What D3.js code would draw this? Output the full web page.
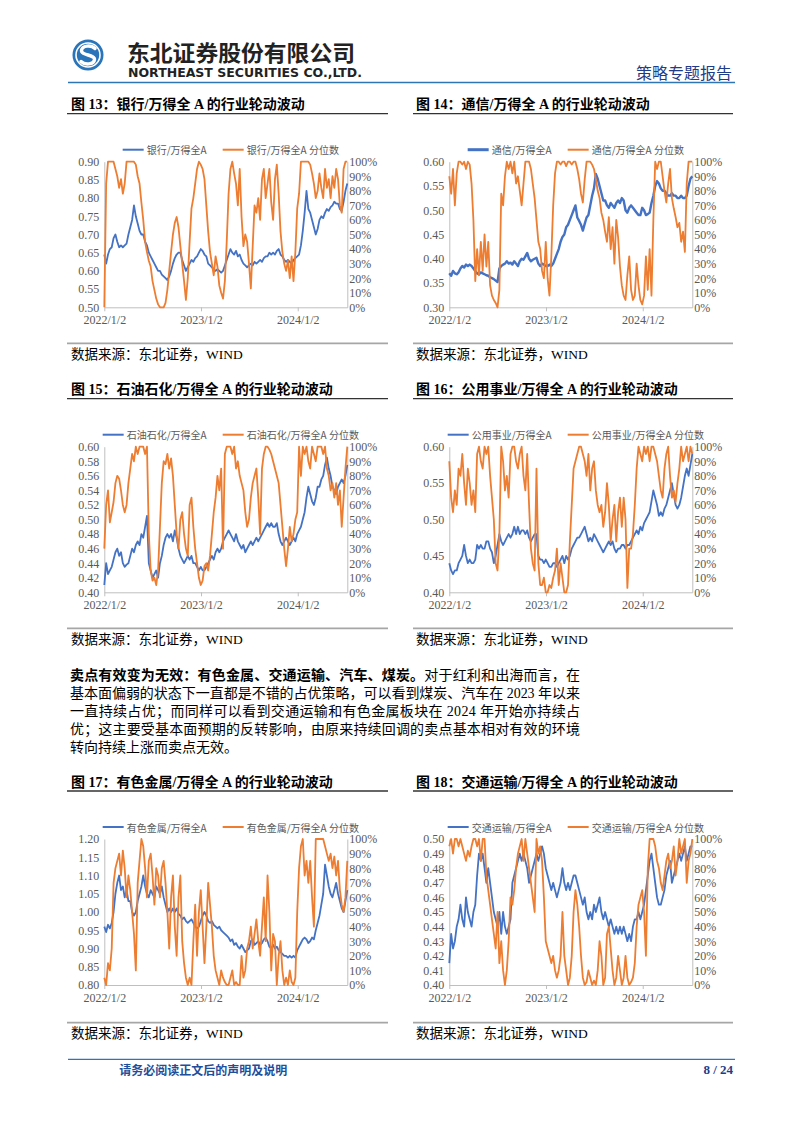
<!DOCTYPE html>
<html><head><meta charset="utf-8">
<script src="https://cdn.jsdelivr.net/npm/d3@7"></script>
<style>body{margin:0;background:#fff}svg{display:block}</style>
</head><body>
<svg id="page" width="802" height="1133"></svg>
<script>
// ---------- categories ----------
const firstWeek = "2022-01-02";
const weekCount = 132;
const xDomainEnd = "2024-07-07";
const xTickDates = ["2022-01-02", "2023-01-02", "2024-01-02"];
const xTickLabels = ["2022/1/2", "2023/1/2", "2024/1/2"];
const pctTicks = [0, 10, 20, 30, 40, 50, 60, 70, 80, 90, 100];

// ---------- series (weekly readings) ----------
const bankRatio = [
0.645,0.62,0.645,0.66,0.665,0.69,0.70,0.68,0.665,0.67,
0.665,0.67,0.675,0.70,0.72,0.74,0.78,0.75,0.73,0.71,
0.70,0.70,0.68,0.67,0.65,0.64,0.63,0.62,0.61,0.60,
0.60,0.59,0.585,0.58,0.575,0.585,0.60,0.62,0.635,0.645,
0.65,0.65,0.63,0.615,0.60,0.61,0.62,0.63,0.625,0.635,
0.64,0.65,0.66,0.655,0.645,0.64,0.62,0.615,0.61,0.605,
0.60,0.605,0.60,0.595,0.60,0.615,0.63,0.645,0.66,0.65,
0.645,0.655,0.64,0.645,0.63,0.62,0.615,0.61,0.615,0.62,
0.615,0.625,0.62,0.625,0.63,0.625,0.635,0.64,0.64,0.65,
0.645,0.65,0.645,0.655,0.66,0.645,0.64,0.63,0.625,0.63,
0.625,0.62,0.63,0.635,0.64,0.645,0.67,0.71,0.76,0.82,
0.77,0.76,0.74,0.72,0.70,0.715,0.74,0.75,0.745,0.76,
0.77,0.765,0.775,0.78,0.79,0.785,0.785,0.77,0.765,0.79,
0.82,0.84];
const bankPct = [
0,85,100,100,100,100,95,90,82,88,
78,85,100,100,100,100,100,98,90,85,
72,60,45,38,32,28,18,12,6,2,
0,0,0,3,12,25,38,50,58,62,
55,42,30,18,5,20,45,68,75,85,
95,100,98,95,88,70,52,38,30,22,
35,28,15,10,6,18,45,78,95,100,
92,85,70,95,62,42,50,45,30,13,
42,70,65,75,60,88,95,75,85,95,
72,60,88,98,78,52,38,30,25,32,
20,35,18,38,68,78,100,100,100,100,
100,98,92,85,75,80,92,82,75,95,
82,88,75,90,82,95,88,70,65,95,
100,100];

const telecomRatio = [
0.37,0.365,0.375,0.37,0.368,0.372,0.38,0.385,0.382,0.388,
0.385,0.388,0.385,0.38,0.375,0.37,0.368,0.372,0.37,0.368,
0.366,0.365,0.362,0.36,0.358,0.355,0.352,0.38,0.385,0.388,
0.39,0.395,0.39,0.392,0.388,0.395,0.39,0.385,0.395,0.40,
0.398,0.405,0.412,0.40,0.395,0.398,0.40,0.402,0.39,0.385,
0.39,0.388,0.385,0.385,0.388,0.385,0.39,0.40,0.41,0.42,
0.435,0.445,0.45,0.465,0.47,0.48,0.49,0.50,0.51,0.485,
0.478,0.47,0.458,0.472,0.485,0.49,0.51,0.53,0.545,0.575,
0.565,0.55,0.535,0.52,0.52,0.51,0.505,0.515,0.51,0.505,
0.515,0.52,0.515,0.525,0.52,0.50,0.495,0.505,0.51,0.505,
0.50,0.495,0.49,0.49,0.505,0.50,0.49,0.492,0.495,0.515,
0.53,0.55,0.56,0.555,0.545,0.54,0.54,0.535,0.53,0.53,
0.535,0.53,0.53,0.525,0.525,0.53,0.525,0.525,0.53,0.55,
0.565,0.57];
const telecomPct = [
90,78,95,70,92,100,100,98,100,95,
100,98,85,60,18,40,22,45,25,50,
28,45,15,8,5,3,0,12,78,70,
90,100,95,100,92,100,85,90,80,70,
85,100,100,100,95,85,75,60,45,40,
25,20,45,20,8,35,70,92,100,100,
98,100,100,97,100,100,98,100,100,95,
88,78,72,88,100,100,100,98,95,88,
80,75,65,60,52,45,62,40,55,30,
60,48,28,15,8,5,22,35,12,5,
8,30,15,5,2,8,35,12,40,8,
60,100,95,100,100,90,80,72,85,95,
75,68,62,55,58,45,52,38,85,100,
100,100];

const petroRatio = [
0.41,0.44,0.425,0.43,0.435,0.445,0.455,0.46,0.45,0.455,
0.44,0.435,0.438,0.44,0.45,0.46,0.455,0.465,0.47,0.465,
0.48,0.475,0.49,0.505,0.44,0.43,0.42,0.425,0.43,0.42,
0.44,0.45,0.465,0.475,0.48,0.475,0.48,0.47,0.485,0.475,
0.46,0.45,0.445,0.44,0.445,0.45,0.445,0.45,0.44,0.44,
0.435,0.43,0.435,0.43,0.43,0.435,0.44,0.445,0.45,0.445,
0.455,0.46,0.455,0.46,0.47,0.475,0.48,0.485,0.48,0.475,
0.47,0.48,0.47,0.465,0.46,0.465,0.455,0.46,0.465,0.47,
0.465,0.47,0.475,0.47,0.475,0.48,0.485,0.49,0.495,0.49,
0.495,0.49,0.49,0.495,0.48,0.47,0.465,0.47,0.475,0.47,
0.465,0.47,0.475,0.47,0.48,0.485,0.49,0.50,0.51,0.53,
0.545,0.535,0.525,0.52,0.53,0.545,0.545,0.555,0.56,0.575,
0.585,0.57,0.56,0.545,0.54,0.535,0.545,0.55,0.555,0.55,
0.56,0.575];
const petroPct = [
30,60,70,48,55,62,75,80,78,70,
60,55,60,75,85,95,90,100,95,100,
100,100,95,100,40,15,8,10,5,15,
45,75,90,88,95,85,92,80,60,40,
30,50,55,40,30,25,60,65,45,30,
20,10,5,8,18,20,15,25,40,55,
65,80,70,85,30,95,100,100,100,95,
100,85,90,80,75,70,55,45,50,65,
75,80,85,65,40,85,95,100,100,98,
95,90,85,80,75,60,45,30,18,30,
45,35,40,50,55,100,80,100,95,100,
90,85,100,95,90,100,100,100,95,100,
85,80,70,75,65,75,60,70,45,65,
85,100];

const utilRatio = [
0.44,0.43,0.425,0.43,0.43,0.44,0.445,0.45,0.465,0.45,
0.44,0.445,0.44,0.44,0.445,0.465,0.46,0.465,0.46,0.46,
0.47,0.47,0.46,0.455,0.44,0.45,0.465,0.48,0.47,0.465,
0.47,0.475,0.48,0.475,0.48,0.49,0.48,0.49,0.48,0.485,
0.485,0.48,0.485,0.475,0.47,0.475,0.48,0.48,0.45,0.445,
0.445,0.44,0.445,0.44,0.435,0.435,0.44,0.44,0.435,0.44,
0.445,0.45,0.44,0.45,0.445,0.45,0.46,0.465,0.47,0.475,
0.475,0.48,0.485,0.49,0.48,0.47,0.475,0.47,0.48,0.475,
0.47,0.465,0.46,0.455,0.46,0.465,0.47,0.465,0.47,0.46,
0.455,0.46,0.46,0.465,0.465,0.46,0.465,0.465,0.47,0.475,
0.48,0.485,0.48,0.49,0.485,0.495,0.50,0.505,0.51,0.525,
0.54,0.53,0.52,0.505,0.51,0.505,0.515,0.52,0.53,0.54,
0.55,0.535,0.52,0.515,0.52,0.53,0.545,0.56,0.57,0.56,
0.575,0.59];
const utilPct = [
90,65,55,70,60,85,80,95,75,60,
85,75,60,70,55,95,100,90,85,100,
95,100,80,65,50,20,15,40,100,90,
70,80,65,95,100,100,90,85,95,100,
80,70,95,60,30,20,15,85,20,5,
5,10,0,0,5,3,10,15,30,5,
20,10,0,0,5,35,60,85,90,95,
100,100,95,90,80,95,70,85,90,70,
60,55,60,45,55,75,60,35,50,60,
35,55,65,45,65,50,3,30,30,40,
60,85,100,95,90,100,95,100,90,100,
100,95,90,80,70,65,85,95,100,80,
65,70,62,75,85,100,90,95,100,90,
100,95];

const metalRatio = [
0.96,0.945,0.965,0.955,0.97,1.00,1.05,1.08,1.10,1.06,
1.07,1.04,1.06,1.03,1.03,1.00,0.99,1.00,1.03,1.05,
1.07,1.10,1.07,1.05,1.04,1.06,1.05,1.04,1.07,1.06,
1.05,1.07,1.04,1.02,1.00,1.01,1.00,1.01,1.00,1.01,
0.995,0.99,0.98,0.985,0.975,0.97,0.975,0.98,0.97,0.96,
0.955,0.96,0.975,0.99,1.00,0.99,0.975,0.97,0.975,0.965,
0.96,0.955,0.96,0.95,0.945,0.94,0.935,0.93,0.92,0.925,
0.91,0.915,0.905,0.90,0.91,0.90,0.89,0.895,0.90,0.92,
0.925,0.91,0.915,0.92,0.91,0.915,0.925,0.93,0.92,0.905,
0.90,0.91,0.90,0.905,0.895,0.89,0.885,0.88,0.88,0.875,
0.88,0.875,0.88,0.875,0.895,0.905,0.915,0.925,0.93,0.925,
0.915,0.92,0.93,0.925,0.95,0.97,0.99,1.02,1.05,1.13,
1.10,1.07,1.05,1.04,1.06,1.08,1.05,1.03,1.01,1.00,
1.03,1.06];
const metalPct = [
5,0,15,10,25,70,80,85,90,75,
92,80,60,75,65,50,35,10,70,85,
100,95,80,60,85,90,75,55,80,75,
60,80,85,70,50,25,60,75,40,20,
60,75,30,15,5,0,5,0,30,55,
20,50,65,40,15,40,70,55,40,20,
10,5,0,10,5,2,0,0,5,10,
0,2,0,0,20,5,10,25,30,40,
25,35,45,30,20,40,60,30,75,50,
10,35,30,0,20,30,10,0,5,0,
10,2,0,5,50,80,95,100,75,85,
70,85,60,40,100,100,100,100,100,95,
90,85,90,80,88,75,85,65,55,50,
60,85];

const transRatio = [
0.415,0.435,0.425,0.43,0.44,0.445,0.455,0.445,0.44,0.46,
0.45,0.445,0.44,0.45,0.455,0.475,0.49,0.485,0.49,0.48,
0.47,0.48,0.47,0.46,0.45,0.445,0.44,0.45,0.435,0.45,
0.44,0.435,0.44,0.445,0.47,0.475,0.48,0.485,0.49,0.485,
0.49,0.485,0.48,0.47,0.475,0.48,0.485,0.49,0.485,0.49,
0.495,0.49,0.48,0.475,0.47,0.465,0.47,0.465,0.46,0.465,
0.47,0.48,0.47,0.465,0.47,0.465,0.47,0.475,0.475,0.47,
0.465,0.46,0.455,0.46,0.45,0.445,0.45,0.445,0.455,0.45,
0.455,0.46,0.45,0.445,0.45,0.445,0.44,0.445,0.44,0.435,
0.44,0.435,0.44,0.435,0.44,0.435,0.43,0.435,0.43,0.44,
0.445,0.445,0.45,0.445,0.45,0.455,0.465,0.475,0.485,0.49,
0.48,0.47,0.46,0.455,0.455,0.46,0.465,0.475,0.48,0.485,
0.47,0.475,0.48,0.485,0.49,0.485,0.49,0.495,0.485,0.49,
0.495,0.495];
const transPct = [
95,100,90,100,100,95,100,95,90,85,
92,88,95,100,100,95,100,85,100,100,
75,65,55,45,35,25,50,15,30,10,
0,10,30,60,55,65,80,90,95,100,
85,100,90,80,70,60,50,100,90,95,
85,60,30,25,20,15,20,10,5,10,
20,50,20,10,0,5,20,50,65,55,
40,20,5,0,2,10,5,0,3,0,
10,30,20,0,5,35,40,25,10,0,
5,20,10,0,5,20,5,0,2,5,
15,40,55,60,65,50,20,80,100,100,
100,95,85,80,70,65,75,85,90,80,
85,95,75,85,100,90,95,100,70,85,
90,100];

// ---------- chart list ----------
const chartNums = [13, 14, 15, 16, 17, 18];
const chartNames = ["银行", "通信", "石油石化", "公用事业", "有色金属", "交通运输"];
const ratioSeries = [bankRatio, telecomRatio, petroRatio, utilRatio, metalRatio, transRatio];
const pctSeries = [bankPct, telecomPct, petroPct, utilPct, metalPct, transPct];
const leftAxisMin = [0.50, 0.30, 0.40, 0.40, 0.80, 0.40];
const leftAxisMax = [0.90, 0.60, 0.60, 0.60, 1.20, 0.50];
const leftAxisStep = [0.05, 0.05, 0.02, 0.05, 0.05, 0.01];

const paragraphLines = [
  [["卖点有效变为无效：有色金属、交通运输、汽车、煤炭。", true], ["对于红利和出海而言，在", false]],
  [["基本面偏弱的状态下一直都是不错的占优策略，可以看到煤炭、汽车在 2023 年以来", false]],
  [["一直持续占优；而同样可以看到交通运输和有色金属板块在 2024 年开始亦持续占", false]],
  [["优；这主要受基本面预期的反转影响，由原来持续回调的卖点基本相对有效的环境", false]],
  [["转向持续上涨而卖点无效。", false]]
];

// ---------- drawing ----------
const BLUE = "#4472C4", ORANGE = "#ED7D31";
const CJK = "'Noto Sans CJK SC', sans-serif";
const SERIF = "'Liberation Serif', 'Noto Sans CJK SC', serif";
const svg = d3.select("#page");
const parse = d3.timeParse("%Y-%m-%d");
const dates = d3.range(weekCount).map(i => d3.timeDay.offset(parse(firstWeek), 7 * i));
const xDomain = [parse(firstWeek), parse(xDomainEnd)];

// header
const hd = svg.append("g");
hd.append("circle").attr("cx", 88).attr("cy", 55).attr("r", 15.5).attr("fill", "#2A74BA");
hd.append("circle").attr("cx", 88).attr("cy", 55).attr("r", 12).attr("fill", "none").attr("stroke", "#fff").attr("stroke-width", 1.6);
hd.append("path").attr("d", "M95,48.5 C91,44.5 82,45.5 81.5,50.5 C81,55.5 95,54.5 94.5,59.5 C94,64.5 85,65.5 81,61.5")
  .attr("fill", "none").attr("stroke", "#fff").attr("stroke-width", 3.4).attr("stroke-linecap", "round");
hd.append("text").attr("x", 127).attr("y", 51).attr("dominant-baseline", "central")
  .attr("font-family", CJK).attr("font-weight", "bold").attr("font-size", 22).attr("fill", "#222")
  .attr("textLength", 228).attr("lengthAdjust", "spacingAndGlyphs").text("东北证券股份有限公司");
hd.append("text").attr("x", 128).attr("y", 76.5)
  .attr("font-family", "'DejaVu Sans', sans-serif").attr("font-weight", "bold").attr("font-size", 12).attr("fill", "#222")
  .attr("textLength", 234).attr("lengthAdjust", "spacingAndGlyphs").text("NORTHEAST SECURITIES CO.,LTD.");
hd.append("text").attr("x", 636).attr("y", 72).attr("dominant-baseline", "central")
  .attr("font-family", CJK).attr("font-size", 16).attr("fill", "#1F3C88")
  .attr("textLength", 96).attr("lengthAdjust", "spacingAndGlyphs").text("策略专题报告");
hd.append("line").attr("x1", 68).attr("x2", 735).attr("y1", 82.5).attr("y2", 82.5).attr("stroke", "#2E75B6").attr("stroke-width", 1.5);

// layout
const cols = [
  {plotL: 104.3, plotR: 347.3, titleX: 71, ruleL: 67, ruleR: 388},
  {plotL: 449.3, plotR: 692.3, titleX: 416, ruleL: 413, ruleR: 733}
];
const rows = [
  {top: 161.7, bottom: 307.3, source: 354},
  {top: 446.7, bottom: 592.3, source: 639},
  {top: 839, bottom: 985, source: 1033.3}
];

function styleAxis(ax) {
  ax.attr("font-family", SERIF).attr("font-size", 12);
  ax.selectAll("text").attr("fill", "#595959");
  ax.select(".domain").attr("stroke", "#BFBFBF").attr("stroke-width", 1);
  ax.selectAll(".tick line").attr("stroke", "#BFBFBF");
}

chartNums.forEach((num, k) => {
  const c = cols[k % 2], r = rows[Math.floor(k / 2)];
  const g = svg.append("g");
  const x = d3.scaleTime().domain(xDomain).range([c.plotL, c.plotR]);
  const y = d3.scaleLinear().domain([leftAxisMin[k], leftAxisMax[k]]).range([r.bottom, r.top]);
  const y2 = d3.scaleLinear().domain([0, 100]).range([r.bottom, r.top]);

  // title + rule
  g.append("text").attr("x", c.titleX).attr("y", r.top - 57).attr("dominant-baseline", "central")
    .attr("font-family", SERIF).attr("font-weight", "bold").attr("font-size", 14).attr("fill", "#000")
    .text(`图 ${num}：${chartNames[k]}/万得全 A 的行业轮动波动`);
  g.append("line").attr("x1", c.ruleL).attr("x2", c.ruleR).attr("y1", r.top - 48).attr("y2", r.top - 48)
    .attr("stroke", "#333").attr("stroke-width", 1.3);

  // axes
  const n = Math.round((leftAxisMax[k] - leftAxisMin[k]) / leftAxisStep[k]);
  const yTicks = d3.range(n + 1).map(i => leftAxisMin[k] + i * leftAxisStep[k]);
  const axL = g.append("g").attr("transform", `translate(${c.plotL},0)`)
    .call(d3.axisLeft(y).tickValues(yTicks).tickFormat(d3.format(".2f")).tickSize(0).tickPadding(5));
  styleAxis(axL);
  const axR = g.append("g").attr("transform", `translate(${c.plotR},0)`)
    .call(d3.axisRight(y2).tickValues(pctTicks).tickFormat(d => d + "%").tickSize(0).tickPadding(2));
  styleAxis(axR);
  const axB = g.append("g").attr("transform", `translate(0,${r.bottom})`)
    .call(d3.axisBottom(x).tickValues(xTickDates.map(parse)).tickFormat((d, i) => xTickLabels[i])
      .tickSizeInner(4).tickSizeOuter(0).tickPadding(4.5));
  styleAxis(axB);

  // lines
  const lineL = d3.line().x((d, i) => x(dates[i])).y(d => y(d));
  const lineR = d3.line().x((d, i) => x(dates[i])).y(d => y2(d));
  g.append("path").datum(ratioSeries[k]).attr("d", lineL).attr("fill", "none")
    .attr("stroke", BLUE).attr("stroke-width", k === 1 ? 2.4 : 1.8).attr("stroke-linejoin", "round");
  g.append("path").datum(pctSeries[k]).attr("d", lineR).attr("fill", "none")
    .attr("stroke", ORANGE).attr("stroke-width", 1.8).attr("stroke-linejoin", "round");

  // legend
  const items = [
    {label: `${chartNames[k]}/万得全A`, color: BLUE, w: k === 1 ? 3 : 2},
    {label: `${chartNames[k]}/万得全A 分位数`, color: ORANGE, w: 2}
  ];
  const lg = g.append("g");
  const texts = items.map(it => lg.append("text").attr("font-family", CJK).attr("font-size", 10)
    .attr("fill", "#595959").attr("dominant-baseline", "central").attr("y", r.top - 12).text(it.label));
  const widths = texts.map(t => t.node().getComputedTextLength());
  const total = 21 + 3 + widths[0] + 16 + 21 + 3 + widths[1];
  let cx = (c.plotL + c.plotR) / 2 + 5 - total / 2;
  items.forEach((it, i) => {
    lg.append("line").attr("x1", cx).attr("x2", cx + 21).attr("y1", r.top - 12).attr("y2", r.top - 12)
      .attr("stroke", it.color).attr("stroke-width", it.w);
    texts[i].attr("x", cx + 24);
    cx += 24 + widths[i] + 16;
  });

  // source
  g.append("line").attr("x1", c.ruleL).attr("x2", c.ruleR).attr("y1", r.source - 10.6).attr("y2", r.source - 10.6)
    .attr("stroke", "#A6A6A6").attr("stroke-width", 1.8);
  g.append("text").attr("x", c.titleX).attr("y", r.source).attr("dominant-baseline", "central")
    .attr("font-family", SERIF).attr("font-size", 13.5).attr("fill", "#000").text("数据来源：东北证券，WIND");
});

// paragraph (justified to x 70..580)
const pg = svg.append("g");
const paraWidth = 510;
paragraphLines.forEach((parts, i) => {
  const t = pg.append("text").attr("x", 70).attr("y", 675 + 18 * i).attr("dominant-baseline", "central")
    .attr("font-family", SERIF).attr("font-size", 14).attr("fill", "#000");
  parts.forEach(([s, b]) => t.append("tspan").attr("font-weight", b ? "bold" : "normal").text(s));
  if (i < paragraphLines.length - 1) {
    const L = t.node().getComputedTextLength();
    const nChars = parts.map(p => p[0]).join("").length;
    t.style("letter-spacing", ((paraWidth - L) / (nChars - 1)) + "px");
  }
});

// footer
svg.append("line").attr("x1", 68).attr("x2", 735).attr("y1", 1059.3).attr("y2", 1059.3).attr("stroke", "#2E75B6").attr("stroke-width", 1.2);
svg.append("text").attr("x", 119.3).attr("y", 1069.3).attr("dominant-baseline", "central")
  .attr("font-family", CJK).attr("font-weight", "bold").attr("font-size", 12).attr("fill", "#1F4E9A")
  .text("请务必阅读正文后的声明及说明");
svg.append("text").attr("x", 733).attr("y", 1069.3).attr("dominant-baseline", "central").attr("text-anchor", "end")
  .attr("font-family", SERIF).attr("font-weight", "bold").attr("font-size", 13).attr("fill", "#1F3C88")
  .text("8 / 24");
</script>
</body></html>
